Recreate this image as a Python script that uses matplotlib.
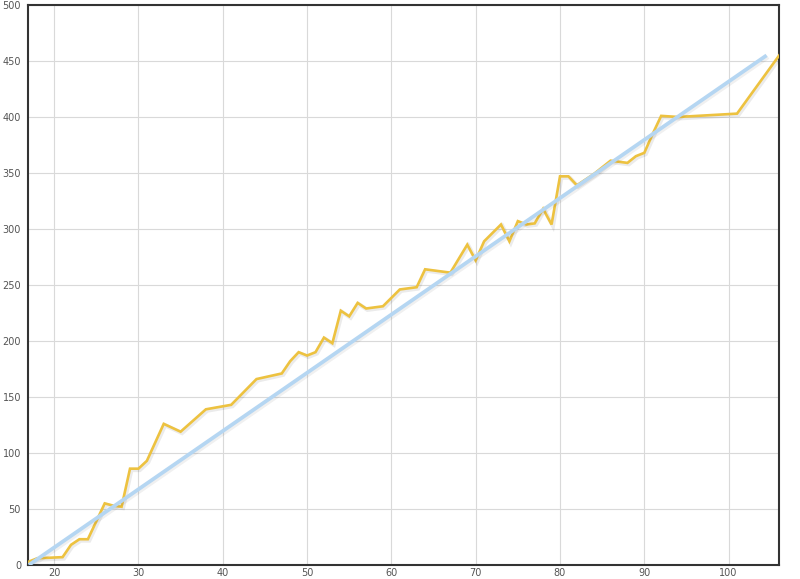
import matplotlib
matplotlib.use("Agg")
import matplotlib.pyplot as plt
import matplotlib.patheffects as pe

# yellow series
xs = [17, 18, 21, 22, 23, 24, 25, 26, 27, 28, 29, 30, 31, 33, 35, 38, 41, 44, 47,
      48, 49, 50, 51, 52, 53, 54, 55, 56, 57, 59, 61, 63, 64, 67, 69, 70, 71, 73,
      74, 75, 76, 77, 78, 79, 80, 81, 82, 84, 86, 87, 88, 89, 90, 91, 92, 94, 101, 106]
ys = [3, 6, 7, 18, 23, 23, 39, 55, 53, 52, 86, 86, 93, 126, 119, 139, 143, 166, 171,
      182, 190, 187, 190, 203, 198, 227, 222, 234, 229, 231, 246, 248, 264, 261, 286, 272, 289, 304,
      289, 307, 304, 305, 318, 304, 347, 347, 339, 349, 361, 360, 359, 365, 368, 385, 401, 400, 403, 455]

# blue trend line
trend_x = [17, 104.5]
trend_y = [0, 455]

xticks = [20, 30, 40, 50, 60, 70, 80, 90, 100]
yticks = [0, 50, 100, 150, 200, 250, 300, 350, 400, 450, 500]

fig = plt.figure(figsize=(8, 5.79), dpi=100)
ax = fig.add_axes([0.035, 0.0242, 0.939, 0.9672])

ax.plot(xs, ys, color='#edc240', lw=1.9, solid_joinstyle='miter',
        path_effects=[pe.SimpleLineShadow(offset=(1, -1), shadow_color='#000000', alpha=0.08, linewidth=3), pe.Normal()],
        zorder=3)
ax.plot(trend_x, trend_y, color='#b5d6f2', lw=2.7, solid_capstyle='butt',
        path_effects=[pe.SimpleLineShadow(offset=(1, -1), shadow_color='#000000', alpha=0.06, linewidth=3.5), pe.Normal()],
        zorder=4)

ax.set_xlim(16.9, 106)
ax.set_ylim(0, 500)
ax.set_xticks(xticks)
ax.set_yticks(yticks)
ax.grid(True, color='#d9d9d9', lw=0.8)
ax.set_axisbelow(True)
ax.tick_params(length=0, labelsize=7, labelcolor='#545454')
ax.tick_params(axis='x', pad=2)
ax.tick_params(axis='y', pad=5)

for s in ax.spines.values():
    s.set_color('#333333')
    s.set_linewidth(1.5)

fig.savefig('out.png', dpi=100)
